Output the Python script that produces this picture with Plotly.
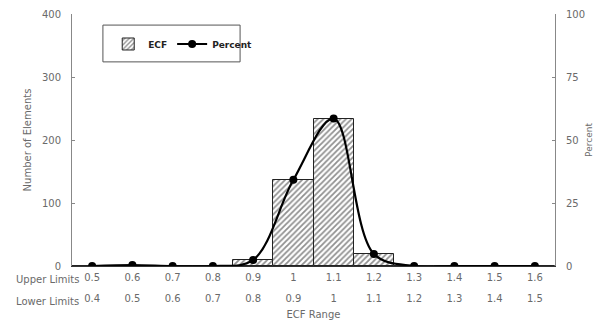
import plotly.graph_objects as go

upper_limits = ["0.5", "0.6", "0.7", "0.8", "0.9", "1", "1.1", "1.2", "1.3", "1.4", "1.5", "1.6"]
lower_limits = ["0.4", "0.5", "0.6", "0.7", "0.8", "0.9", "1", "1.1", "1.2", "1.3", "1.4", "1.5"]
ecf_counts = [0, 0, 0, 0, 10, 136, 233, 19, 0, 0, 0, 0]
percent = [0, 0.4, 0, 0, 2.4, 34.2, 58.5, 4.8, 0, 0, 0, 0]

pos = list(range(len(upper_limits)))
gray = "#6a6a6a"
font = dict(family="DejaVu Sans", size=10, color=gray)

fig = go.Figure()
fig.add_trace(go.Bar(
    x=pos, y=ecf_counts, name="ECF", width=1,
    marker=dict(color="white", line=dict(color="#222222", width=1),
                pattern=dict(shape="/", fgcolor="#222222", bgcolor="white", size=4, solidity=0.45)),
))
fig.add_trace(go.Scatter(
    x=pos, y=percent, name="Percent", yaxis="y2", mode="lines+markers",
    line=dict(color="black", width=2.2, shape="spline", smoothing=1),
    marker=dict(color="black", size=8),
))
# dummy trace for the lower-limit axis
fig.add_trace(go.Scatter(x=pos, y=[None]*len(pos), xaxis="x2", showlegend=False, hoverinfo="skip"))

fig.update_layout(
    width=595, height=316,
    margin=dict(l=64, r=48, t=6, b=58, autoexpand=False),
    plot_bgcolor="white", paper_bgcolor="white",
    font=font,
    bargap=0,
    showlegend=True,
    legend=dict(orientation="h", x=0.075, y=0.881, xanchor="left", yanchor="middle",
                borderwidth=0, bgcolor="rgba(0,0,0,0)",
                font=dict(family="DejaVu Sans", size=9, color="#222222", weight="bold"),
                itemwidth=30, tracegroupgap=0),
    shapes=[dict(type="rect", xref="paper", yref="paper", x0=0.064, x1=0.348, y0=0.81, y1=0.956,
                 line=dict(color="#555555", width=1), fillcolor="rgba(0,0,0,0)", layer="below")],
    xaxis=dict(range=[-0.5, 11.5], tickmode="array", tickvals=pos, ticktext=upper_limits,
               showline=True, linecolor="#333333", linewidth=1, ticks="", showgrid=False,
               zeroline=False, tickfont=font, automargin=False, ticklabelstandoff=2,
               title=dict(text="ECF Range", font=font, standoff=28)),
    xaxis2=dict(range=[-0.5, 11.5], overlaying="x", anchor="y", side="bottom",
                tickmode="array", tickvals=pos, ticktext=lower_limits,
                showline=False, ticks="", showgrid=False, zeroline=False, automargin=False,
                tickfont=font, ticklabelstandoff=25),
    yaxis=dict(range=[0, 400], dtick=100, showline=True, linecolor="#888888", linewidth=1,
               ticks="inside", ticklen=3, tickcolor="#888888", showgrid=False, zeroline=False,
               tickfont=font, automargin=False, ticklabelstandoff=8,
               title=dict(text="Number of Elements", font=font, standoff=8)),
    yaxis2=dict(range=[0, 100], dtick=25, overlaying="y", side="right", showline=True,
                linecolor="#888888", linewidth=1, ticks="inside", ticklen=3, tickcolor="#888888",
                showgrid=False, zeroline=False, tickfont=font, automargin=False, ticklabelstandoff=8,
                title=dict(text="Percent", font=dict(family="DejaVu Sans", size=9, color=gray), standoff=1)),
    annotations=[
        dict(text="Upper Limits", xref="paper", yref="paper", x=0.018, y=-0.0516,
             xanchor="right", yanchor="middle", showarrow=False, font=font),
        dict(text="Lower Limits", xref="paper", yref="paper", x=0.018, y=-0.139,
             xanchor="right", yanchor="middle", showarrow=False, font=font),
    ],
)

fig.write_html("out.html")
